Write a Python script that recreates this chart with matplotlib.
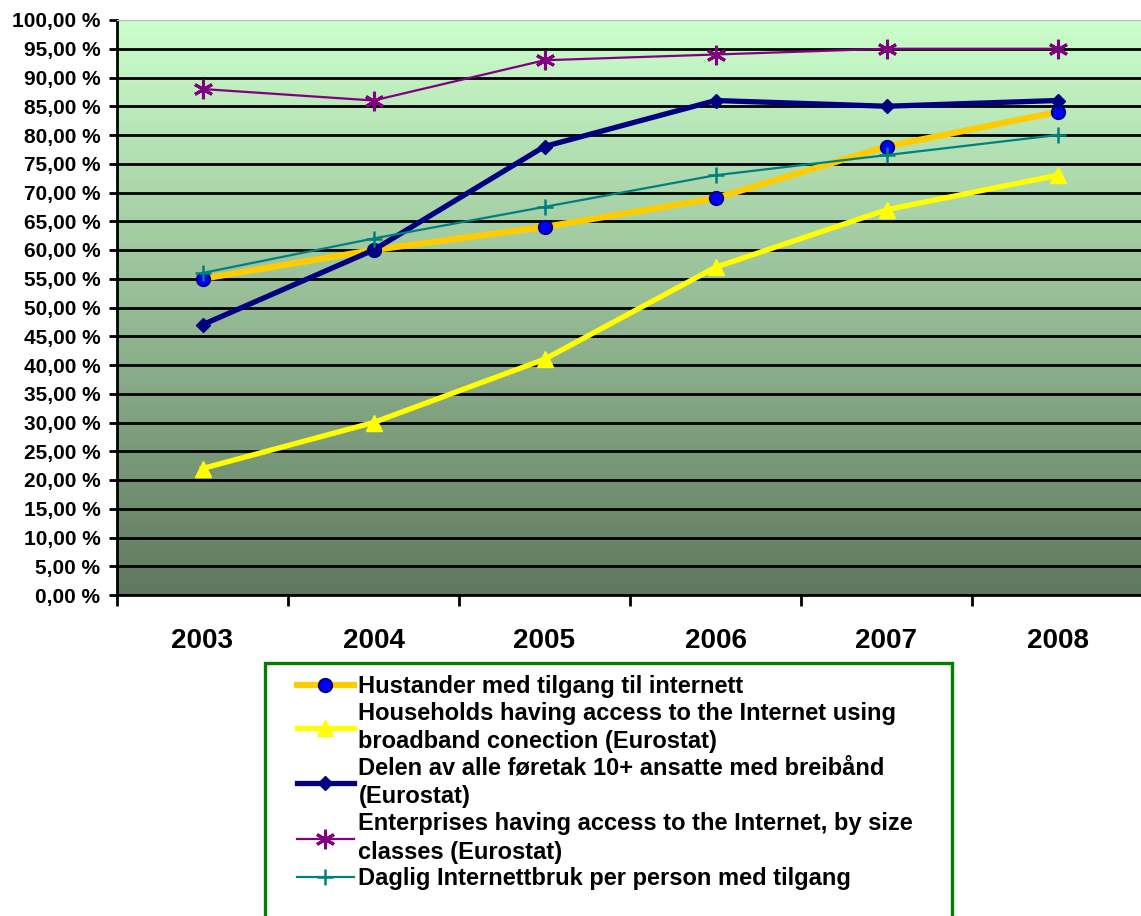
import numpy as np
import matplotlib
matplotlib.use('Agg')
import matplotlib.pyplot as plt
from matplotlib.patches import Rectangle
from matplotlib.colors import LinearSegmentedColormap
from matplotlib.ticker import FuncFormatter

years = ['2003', '2004', '2005', '2006', '2007', '2008']
hustander = [55, 60, 64, 69, 78, 84]
broadband = [22, 30, 41, 57, 67, 73]
delen = [47, 60, 78, 86, 85, 86]
enterprises = [88, 86, 93, 94, 95, 95]
daglig = [56, 62, 67.5, 73, 76.5, 80]

labels = [
    'Hustander med tilgang til internett',
    'Households having access to the Internet using\nbroadband conection (Eurostat)',
    'Delen av alle føretak 10+ ansatte med breibånd\n(Eurostat)',
    'Enterprises having access to the Internet, by size\nclasses (Eurostat)',
    'Daglig Internettbruk per person med tilgang',
]

plt.rcParams['font.family'] = ['Liberation Sans', 'DejaVu Sans']

W, H = 1141, 916
fig = plt.figure(figsize=(W / 100, H / 100), dpi=100)
ax = fig.add_axes([117 / W, 1 - 595 / H, 1026 / W, 575 / H])

# vertical green gradient behind the plot area
grad = LinearSegmentedColormap.from_list('bg', ['#5F785F', '#CCFFCC'])
ax.imshow(np.linspace(0, 1, 256).reshape(-1, 1), cmap=grad, origin='lower',
          extent=[0, 1, 0, 1], transform=ax.transAxes, aspect='auto', zorder=0)

x = np.arange(len(years))
ax.plot(x, hustander, color='#FFCC00', lw=4.5, marker='o', ms=9.5,
        mfc='#0000FF', mec='#000080', mew=1.5, zorder=3, label=labels[0])
ax.plot(x, broadband, color='#FFFF00', lw=3.8, marker='^', ms=11,
        mfc='#FFFF00', mec='#FFFF00', zorder=3, label=labels[1])
ax.plot(x, delen, color='#000080', lw=3.8, marker='D', ms=7.5,
        mfc='#000080', mec='#000080', zorder=3, label=labels[2])
ax.plot(x, enterprises, color='#800080', lw=1.6, marker=(6, 2, 0), ms=14,
        mec='#800080', mew=2.2, zorder=3, label=labels[3])
ax.plot(x, daglig, color='#008080', lw=1.6, marker='+', ms=12,
        mec='#008080', mew=1.8, zorder=3, label=labels[4])

ax.set_xlim(-0.5, len(years) - 0.5)
ax.set_ylim(0, 100)
ax.set_yticks(np.arange(0, 101, 5))
ax.yaxis.set_major_formatter(FuncFormatter(lambda v, p: f'{v:.2f} %'.replace('.', ',')))
ax.tick_params(axis='y', length=6, width=2, pad=6, labelsize=15)
for t in ax.get_yticklabels():
    t.set_fontweight('bold')

ax.set_xticks(np.arange(-0.5, len(years), 1))
ax.set_xticklabels([])
ax.set_xticks(x, minor=True)
ax.set_xticklabels(years, minor=True, fontsize=20, fontweight='bold')
ax.tick_params(axis='x', which='major', length=8, width=2)
ax.tick_params(axis='x', which='minor', length=0, pad=24)

ax.yaxis.grid(True, color='black', lw=2)
ax.get_ygridlines()[-1].set_visible(False)
for gl in ax.get_ygridlines():
    gl.set_zorder(1)

ax.spines['left'].set_linewidth(2)
ax.spines['bottom'].set_linewidth(2)
ax.spines['top'].set_color('#C0C0C0')
ax.spines['top'].set_linewidth(1)
ax.spines['right'].set_visible(False)

# legend box runs off the bottom of the figure
fig.patches.append(Rectangle((265 / W, -0.05), 687 / W, 0.05 + (916 - 663) / H,
                             transform=fig.transFigure, facecolor='white',
                             edgecolor='#008000', lw=2.4, zorder=1))
leg = fig.legend(loc='upper left', bbox_to_anchor=(297 / W, 1 - 675 / H),
                 borderaxespad=0, borderpad=0, frameon=False,
                 handlelength=2.4, handletextpad=0.2, labelspacing=0.16,
                 prop={'weight': 'bold', 'size': 17})
leg.set_zorder(2)
for t in leg.get_texts():
    t.set_linespacing(1.3)

fig.savefig('out.png', dpi=100)
